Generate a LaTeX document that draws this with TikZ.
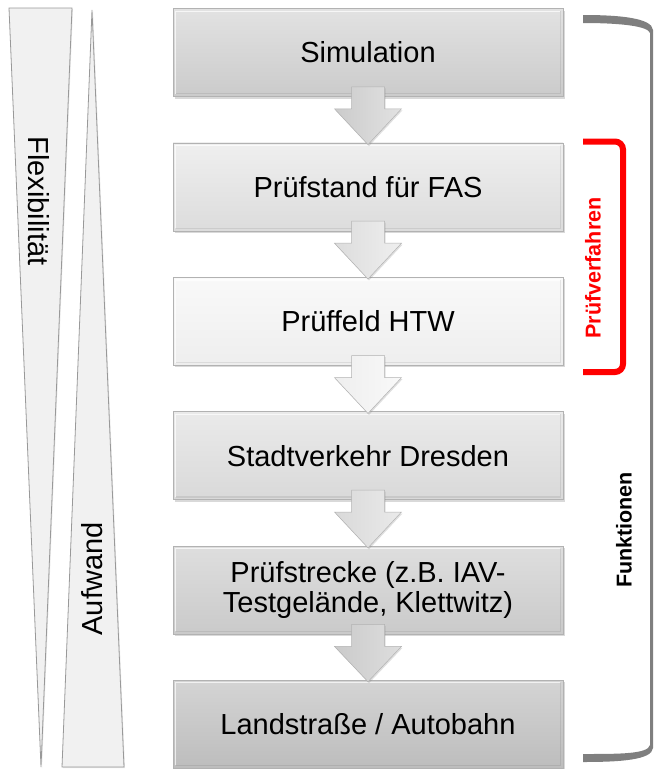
\documentclass[tikz,border=0pt]{standalone}
\usepackage{fontspec}
\setmainfont{Liberation Sans}
\usetikzlibrary{calc,shadows}
\definecolor{gA}{HTML}{E2E2E2}\definecolor{gAb}{HTML}{CBCBCB}
\definecolor{gB}{HTML}{EFEFEF}\definecolor{gBb}{HTML}{DCDCDC}
\definecolor{gC}{HTML}{F9F9F9}\definecolor{gCb}{HTML}{EEEEEE}
\definecolor{gD}{HTML}{EAEAEA}\definecolor{gDb}{HTML}{D9D9D9}
\definecolor{gE}{HTML}{DEDEDE}\definecolor{gEb}{HTML}{CACACA}
\definecolor{gF}{HTML}{D4D4D4}\definecolor{gFb}{HTML}{BDBDBD}
\definecolor{brk}{HTML}{7F7F7F}
\newcommand\boxfont{\fontsize{29}{30}\selectfont}
\newcommand\sidefont{\fontsize{29}{30}\selectfont}
\newcommand\labfont{\fontsize{21.5}{24}\selectfont\bfseries}
\newcommand\flowarrow[4]{%
  \path[left color=#3, right color=#4, draw=gray!60, line width=0.5pt,
        drop shadow={shadow xshift=1pt, shadow yshift=-1.5pt, opacity=0.25}]
    ($(#1.south)+(-16.5,-10)$) -- ($(#1.south)+(16.5,-10)$) --
    ($(#1.south)+(16.5,12)$) -- ($(#1.south)+(33.5,12)$) --
    ($(#2.north)+(0,2)$) -- ($(#1.south)+(-33.5,12)$) --
    ($(#1.south)+(-16.5,12)$) -- cycle;}
\newcommand\bevel[1]{%
  \draw[white, opacity=0.7, line width=1.2pt]
    ($(#1.south west)+(3,-3)$) -- ($(#1.north west)+(3,3)$) -- ($(#1.north east)+(-3,3)$);
  \draw[black, opacity=0.08, line width=1.2pt]
    ($(#1.north east)+(-3,3)$) -- ($(#1.south east)+(-3,-3)$) -- ($(#1.south west)+(3,-3)$);}
\begin{document}
\begin{tikzpicture}[x=1pt,y=-1pt,
  box/.style={draw=gray!60, line width=0.6pt, minimum width=390pt,
    minimum height=88pt, inner sep=0pt, align=center, font=\boxfont,
    drop shadow={shadow xshift=1.5pt, shadow yshift=-2pt, opacity=0.3}},
  wedge/.style={fill=gray!11, draw=gray!80, line width=0.8pt,
    drop shadow={shadow xshift=1pt, shadow yshift=-1pt, opacity=0.2}},
  sidetext/.style={font=\sidefont, inner sep=0pt},
]
\useasboundingbox (0,0) rectangle (654,769);

% left wedges
\draw[wedge] (9,8) -- (72,8) -- (41,767) -- cycle;
\draw[wedge] (92,10) -- (124,767) -- (62,767) -- cycle;
\node[sidetext, rotate=-90] (flex) at (39,201) {Flexibilität};
\node[sidetext, rotate=90] (aufw) at (92,579) {Aufwand};

% boxes
\node[box, top color=gA, bottom color=gAb] (b1) at (368,52.5) {Simulation};
\node[box, top color=gB, bottom color=gBb] (b2) at (368,186.9) {Prüfstand für FAS};
\node[box, top color=gC, bottom color=gCb] (b3) at (368,321.3) {Prüffeld HTW};
\node[box, top color=gD, bottom color=gDb] (b4) at (368,455.7) {Stadtverkehr Dresden};
\node[box, top color=gE, bottom color=gEb] (b5) at (368,590.1) {Prüfstrecke (z.B. IAV-\\Testgelände, Klettwitz)};
\node[box, top color=gF, bottom color=gFb] (b6) at (368,724) {Landstraße / Autobahn};
\bevel{b1}\bevel{b2}\bevel{b3}\bevel{b4}\bevel{b5}\bevel{b6}

% arrows
\flowarrow{b1}{b2}{gAb}{gA}
\flowarrow{b2}{b3}{gBb}{gB}
\flowarrow{b3}{b4}{gCb}{gC}
\flowarrow{b4}{b5}{gDb}{gD}
\flowarrow{b5}{b6}{gEb}{gE}

% grey bracket
\fill[brk] (583,15) .. controls (620,15) and (652,18) .. (653,30) -- (653,748)
  .. controls (652,760) and (620,762) .. (583,762) -- (583,754)
  .. controls (620,754) and (648,754) .. (650,745) -- (650,33)
  .. controls (648,26) and (620,23) .. (583,23) -- cycle;
\node[font=\labfont, rotate=90, inner sep=0pt] (funk) at (624,530) {Funktionen};

% red bracket
\draw[red, line width=6pt, rounded corners=8pt] (583,141.5) -- (623,141.5) -- (623,372) -- (583,372);
\node[font=\labfont, text=red, rotate=90, inner sep=0pt] (pv) at (593,268) {Prüfverfahren};
\end{tikzpicture}
\end{document}
